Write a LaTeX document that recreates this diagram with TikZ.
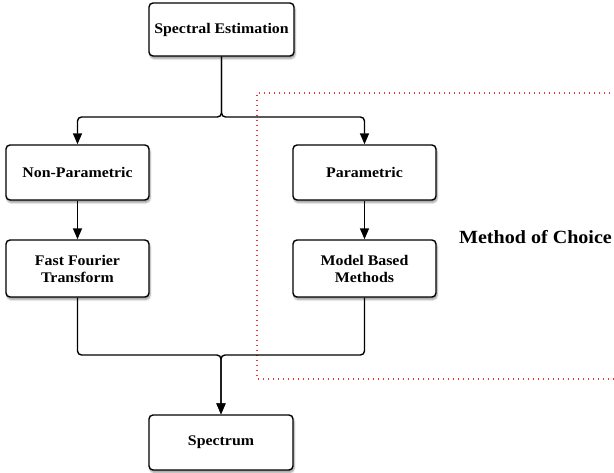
\documentclass[tikz,border=0pt]{standalone}
\usepackage{fontspec}
\setmainfont{Liberation Serif}
\newfontfamily\boxfont[FakeStretch=1.08]{Liberation Serif}
\usetikzlibrary{arrows.meta,shadows.blur}
\definecolor{choicered}{RGB}{235,55,55}
\tikzset{
  stepbox/.style={draw=black, line width=1.4pt, fill=white, rounded corners=4pt,
    minimum width=143pt, minimum height=55pt, align=center,
    font=\boxfont\bfseries\fontsize{14.7}{17}\selectfont,
    blur shadow={shadow xshift=1pt, shadow yshift=-2.5pt, shadow blur steps=6, shadow opacity=40}},
  conn/.style={draw=black, line width=1.4pt, rounded corners=4pt,
    -{Triangle[width=9pt,length=11pt]}},
  choice/.style={draw=choicered, line width=1.3pt, dash pattern=on 1.4pt off 3.6pt}
}
\begin{document}
\begin{tikzpicture}[x=1pt,y=-1pt]
  \useasboundingbox (0,0) rectangle (614,472);
  % region around the parametric branch
  \draw[choice] (620,93) -- (257,93) -- (257,379) -- (620,379);
  \node[font=\boxfont\bfseries\fontsize{18.6}{20}\selectfont] (moc) at (535.5,237) {Method of Choice};

  % boxes
  \node[stepbox, minimum width=145pt, minimum height=53pt] (se) at (221.5,29.5) {Spectral Estimation};
  \node[stepbox] (np) at (77.5,172.5) {Non-Parametric};
  \node[stepbox] (pa) at (364.5,172.5) {Parametric};
  \node[stepbox, minimum height=57pt] (fft) at (77.5,268.5) {Fast Fourier\\Transform};
  \node[stepbox, minimum height=57pt] (mb) at (364.5,268.5) {Model Based\\Methods};
  \node[stepbox, minimum width=144pt] (sp) at (221,442.5) {Spectrum};

  % junction points
  \coordinate (split) at (221.5,117);
  \coordinate (merge) at (221,355);

  % connectors
  \draw[conn] (se.south) -- (split) -| (np.north);
  \draw[conn] (se.south) -- (split) -| (pa.north);
  \draw[conn] (np.south) -- (fft.north);
  \draw[conn] (pa.south) -- (mb.north);
  \draw[conn] (fft.south) |- (merge) -- (sp.north);
  \draw[conn] (mb.south) |- (merge) -- (sp.north);
\end{tikzpicture}
\end{document}
